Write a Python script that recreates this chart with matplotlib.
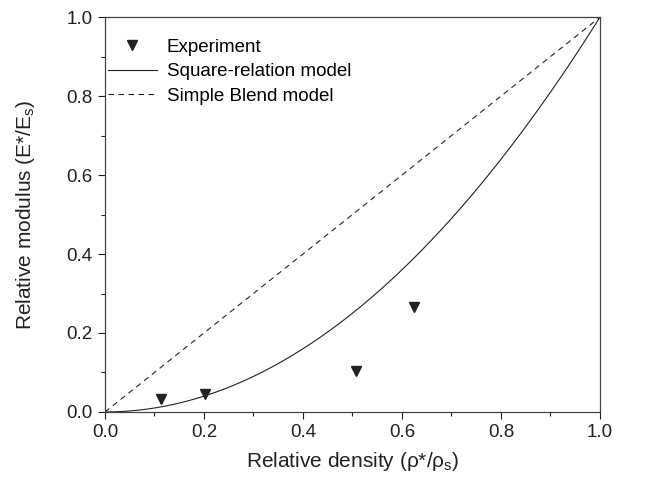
import numpy as np
import matplotlib.pyplot as plt
from matplotlib.ticker import MultipleLocator

plt.rcParams['font.family'] = ['Liberation Sans', 'DejaVu Sans']
plt.rcParams['mathtext.fontset'] = 'custom'
plt.rcParams['mathtext.rm'] = 'Liberation Sans'

# experimental points
rho_exp = [0.114, 0.202, 0.508, 0.625]
E_exp = [0.034, 0.046, 0.103, 0.267]

# model curves
rho = np.linspace(0, 1, 200)
E_square = rho ** 2
E_blend = rho

fig = plt.figure(figsize=(6.6, 4.91), dpi=100)
ax = fig.add_axes([0.159, 0.161, 0.75, 0.804])

c = '#222222'
ax.plot(rho_exp, E_exp, linestyle='none', marker='v', color=c, markersize=7.5,
        label='Experiment')
ax.plot(rho, E_square, '-', color=c, lw=0.8, label='Square-relation model')
ax.plot(rho, E_blend, '--', color=c, lw=0.8, dashes=(5, 4), label='Simple Blend model')

ax.set_xlim(0, 1)
ax.set_ylim(0, 1)
ax.xaxis.set_major_locator(MultipleLocator(0.2))
ax.xaxis.set_minor_locator(MultipleLocator(0.1))
ax.yaxis.set_major_locator(MultipleLocator(0.2))
ax.yaxis.set_minor_locator(MultipleLocator(0.1))
ax.xaxis.set_major_formatter(plt.FormatStrFormatter('%.1f'))
ax.yaxis.set_major_formatter(plt.FormatStrFormatter('%.1f'))
ax.tick_params(which='major', direction='out', length=5, width=0.8, colors=c,
               labelsize=13.5, pad=4)
ax.tick_params(which='minor', direction='out', length=3, width=0.8, colors=c)
for s in ax.spines.values():
    s.set_color('#444444')
    s.set_linewidth(0.9)

ax.set_xlabel(r'Relative density (ρ*/ρ$_\mathregular{s}$)', fontsize=15,
              color=c, labelpad=6)
ax.set_ylabel(r'Relative modulus (E*/E$_\mathregular{s}$)', fontsize=15,
              color=c, labelpad=21)

ax.legend(loc='upper left', frameon=False, fontsize=13.5, handlelength=2.6,
          handletextpad=0.55, labelspacing=0.4, borderpad=0, borderaxespad=0,
          bbox_to_anchor=(0.006, 0.946))

fig.savefig('out.png', dpi=100)
